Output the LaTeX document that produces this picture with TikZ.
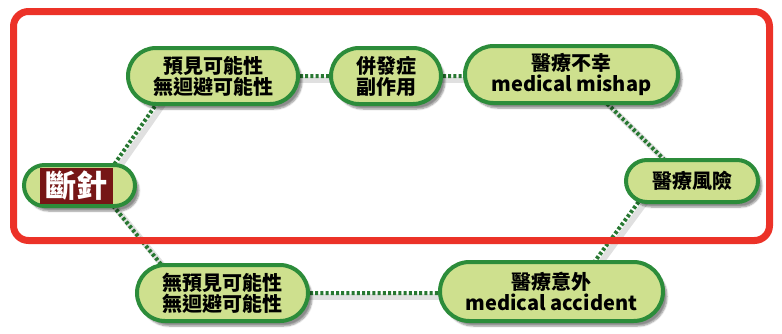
\documentclass[tikz,border=0pt]{standalone}
\usepackage{fontspec}
\newfontfamily\cjk{Noto Sans CJK TC}
\usetikzlibrary{shapes.misc,shadows.blur,calc,backgrounds}
\definecolor{pillfill}{RGB}{206,224,142}
\definecolor{pillline}{RGB}{44,140,58}
\definecolor{framered}{RGB}{236,50,40}
\definecolor{boxred}{RGB}{118,22,22}
\definecolor{dotgreen}{RGB}{40,120,50}
\tikzset{
  pill/.style={rounded rectangle, draw=pillline, fill=pillfill, line width=4pt,
    inner sep=0pt, align=center,
    font=\cjk\bfseries\fontsize{20}{21}\selectfont,
    blur shadow={shadow xshift=4pt, shadow yshift=-5pt, shadow opacity=45, shadow blur steps=6}},
  link/.style={draw=dotgreen, line width=4pt, dash pattern=on 3pt off 2.2pt},
  linkshadow/.style={draw=black, opacity=0.12, line width=6pt, line cap=round},
}
\begin{document}
\begin{tikzpicture}[x=1pt,y=-1pt]
\useasboundingbox (0,0) rectangle (782,333);
% red frame
\draw[framered, line width=7pt, rounded corners=15pt] (13.5,11.5) rectangle (769.5,240.5);
% nodes
\node[pill, minimum width=170pt, minimum height=56pt] (n1) at (213,76) {預見可能性\\無迴避可能性};
\node[pill, minimum width=110pt, minimum height=56pt] (n2) at (386,76) {併發症\\副作用};
\node[pill, minimum width=213pt, minimum height=57pt] (n3) at (571.5,74.5) {醫療不幸\\medical mishap};
\node[pill, minimum width=132pt, minimum height=42pt] (n4) at (692,181) {醫療風險};
\node[pill, minimum width=111pt, minimum height=41pt] (n5) at (79.5,185.5) {};
\node[fill=boxred, text=white, inner sep=0pt, minimum width=73pt, minimum height=36pt,
      font=\cjk\bfseries\fontsize{31}{32}\selectfont] (n5t) at (76.5,185.5) {斷針};
\node[pill, minimum width=171pt, minimum height=56pt] (n6) at (222.5,293) {無預見可能性\\無迴避可能性};
\node[pill, minimum width=223pt, minimum height=59pt] (n7) at (551.5,291.5) {醫療意外\\medical accident};
% connectors
\begin{scope}[on background layer]
  \foreach \a/\sa/\b/\sb in {n5/20/n1/-37, n5/17/n6/-38, n3/6/n4/-6, n4/-38/n7/21}{
    \draw[linkshadow] ($(\a.center)+(\sa+4,4)$) -- ($(\b.center)+(\sb+4,4)$);
    \draw[link] ($(\a.center)+(\sa,0)$) -- ($(\b.center)+(\sb,0)$);
  }
  \draw[linkshadow] ($(n1.center)+(4,4)$) -- ($(n2.center)+(4,4)$);
  \draw[link] (n1) -- (n2);
  \draw[linkshadow] ($(n2.center)+(4,4)$) -- ($(n3.center |- n2.center)+(4,4)$);
  \draw[link] (n2) -- (n3.center |- n2.center);
  \draw[linkshadow] ($(n6.center)+(4,4)$) -- ($(n7.center |- n6.center)+(4,4)$);
  \draw[link] (n6) -- (n7.center |- n6.center);
\end{scope}
\end{tikzpicture}
\end{document}
